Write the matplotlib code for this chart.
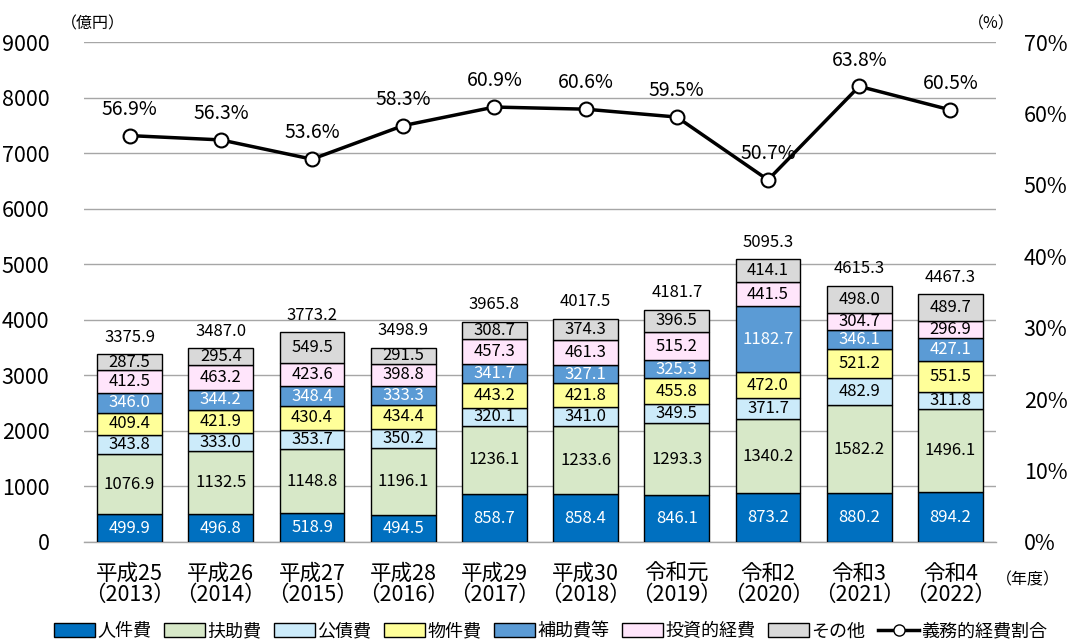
import matplotlib
matplotlib.use("Agg")
import matplotlib.pyplot as plt
from matplotlib.lines import Line2D
from matplotlib.patches import Patch
import numpy as np

plt.rcParams['font.family'] = ['Noto Sans CJK JP', 'DejaVu Sans']

years = ["平成25\n（2013）", "平成26\n（2014）", "平成27\n（2015）", "平成28\n（2016）",
         "平成29\n（2017）", "平成30\n（2018）", "令和元\n（2019）", "令和2\n（2020）",
         "令和3\n（2021）", "令和4\n（2022）"]

personnel = [499.9, 496.8, 518.9, 494.5, 858.7, 858.4, 846.1, 873.2, 880.2, 894.2]
assistance = [1076.9, 1132.5, 1148.8, 1196.1, 1236.1, 1233.6, 1293.3, 1340.2, 1582.2, 1496.1]
debt = [343.8, 333.0, 353.7, 350.2, 320.1, 341.0, 349.5, 371.7, 482.9, 311.8]
goods = [409.4, 421.9, 430.4, 434.4, 443.2, 421.8, 455.8, 472.0, 521.2, 551.5]
subsidies = [346.0, 344.2, 348.4, 333.3, 341.7, 327.1, 325.3, 1182.7, 346.1, 427.1]
investment = [412.5, 463.2, 423.6, 398.8, 457.3, 461.3, 515.2, 441.5, 304.7, 296.9]
other = [287.5, 295.4, 549.5, 291.5, 308.7, 374.3, 396.5, 414.1, 498.0, 489.7]
totals = [3375.9, 3487.0, 3773.2, 3498.9, 3965.8, 4017.5, 4181.7, 5095.3, 4615.3, 4467.3]
mandatory_ratio = [56.9, 56.3, 53.6, 58.3, 60.9, 60.6, 59.5, 50.7, 63.8, 60.5]

series = [
    ("人件費", personnel, "#0070C0", "white"),
    ("扶助費", assistance, "#D7E8C8", "black"),
    ("公債費", debt, "#CCEBFA", "black"),
    ("物件費", goods, "#FFFF99", "black"),
    ("補助費等", subsidies, "#5B9BD5", "white"),
    ("投資的経費", investment, "#FFE5FB", "black"),
    ("その他", other, "#D9D9D9", "black"),
]

fig = plt.figure(figsize=(10.69, 6.39), dpi=100)
ax = fig.add_axes([0.0786, 0.1518, 0.8531, 0.7824])
ax2 = ax.twinx()

x = np.arange(len(years))
bottom = np.zeros(len(years))
for name, vals, color, tcolor in series:
    vals = np.array(vals)
    ax.bar(x, vals, 0.71, bottom=bottom, color=color, edgecolor="black",
           linewidth=1.0, zorder=3)
    for xi, b, v in zip(x, bottom, vals):
        ax.text(xi, b + v / 2, f"{v:.1f}", ha="center", va="center",
                fontsize=12, color=tcolor, zorder=4)
    bottom += vals

for xi, top, t in zip(x, bottom, totals):
    ax.text(xi, top + 150, f"{t:.1f}", ha="center", va="bottom",
            fontsize=12, color="black")

ax.set_xlim(-0.5, 9.5)
ax.set_ylim(0, 9000)
ax.set_yticks(np.arange(0, 9001, 1000))
ax.tick_params(axis="y", length=0, labelsize=15.5, pad=25)
ax.tick_params(axis="x", length=0, labelsize=15.5, pad=15)
ax.set_xticks(x)
ax.set_xticklabels(years, linespacing=0.92)
ax.grid(axis="y", color="#A6A6A6", linewidth=1.0, zorder=0)
ax.set_axisbelow(True)
for s in ["top", "right", "left"]:
    ax.spines[s].set_visible(False)
ax.spines["bottom"].set_color("#A6A6A6")
ax.spines["bottom"].set_linewidth(1.0)

ax2.plot(x, mandatory_ratio, color="black", linewidth=2.5, marker="o",
         markersize=10, markerfacecolor="white", markeredgecolor="black",
         markeredgewidth=1.5, zorder=5)
for xi, r in zip(x, mandatory_ratio):
    ax2.text(xi, r + 2.2, f"{r:.1f}%", ha="center", va="bottom", fontsize=14)
ax2.set_ylim(0, 70)
ax2.set_yticks(np.arange(0, 71, 10))
ax2.set_yticklabels([f"{v}%" for v in range(0, 71, 10)])
ax2.tick_params(axis="y", length=0, labelsize=15.5, pad=20)
for s in ax2.spines.values():
    s.set_visible(False)

fig.text(0.057, 0.962, "（億円）", fontsize=11.5, ha="left", va="center")
fig.text(0.905, 0.962, "（%）", fontsize=11.5, ha="left", va="center")
fig.text(0.932, 0.093, "（年度）", fontsize=11.5, ha="left", va="center")

handles = [Patch(facecolor=c, edgecolor="black", linewidth=1.0, label=n)
           for n, _, c, _ in series]
handles.append(Line2D([0], [0], color="black", linewidth=2.5, marker="o",
                      markersize=8, markerfacecolor="white",
                      markeredgecolor="black", label="義務的経費割合"))
fig.legend(handles=handles, loc="center", bbox_to_anchor=(0.515, 0.012),
           ncol=8, frameon=False, fontsize=13, handlelength=2.3,
           handleheight=0.8, handletextpad=0.1, columnspacing=0.7,
           borderaxespad=0)

fig.savefig("out.png", dpi=100)
